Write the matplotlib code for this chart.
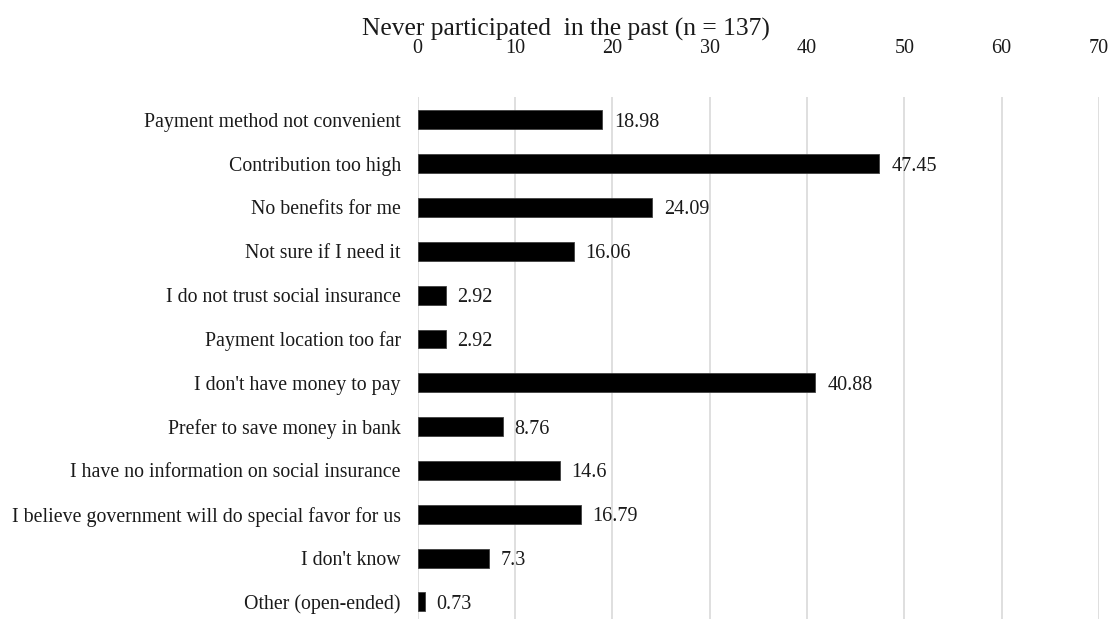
import matplotlib
matplotlib.use("Agg")
import matplotlib.pyplot as plt

reasons = [
    "Payment method not convenient",
    "Contribution too high",
    "No benefits for me",
    "Not sure if I need it",
    "I do not trust social insurance",
    "Payment location too far",
    "I don't have money to pay",
    "Prefer to save money in bank",
    "I have no information on social insurance",
    "I believe government will do special favor for us",
    "I don't know",
    "Other (open-ended)",
]
percent = [18.98, 47.45, 24.09, 16.06, 2.92, 2.92, 40.88, 8.76, 14.6, 16.79, 7.3, 0.73]
value_labels = ["18.98", "47.45", "24.09", "16.06", "2.92", "2.92", "40.88", "8.76", "14.6", "16.79", "7.3", "0.73"]
xticks = [0, 10, 20, 30, 40, 50, 60, 70]

plt.rcParams['font.family'] = ['Liberation Serif', 'DejaVu Serif']

W, H = 1111, 619
fig = plt.figure(figsize=(W / 100, H / 100), dpi=100)
ax = fig.add_axes([417.5 / W, 0, (1099 - 417.5) / W, 1 - 97 / H])

y = list(range(len(reasons)))
ax.barh(y, percent, height=0.43, color='black', edgecolor='#404040', linewidth=0.6, zorder=3)
for yi, v, lab in zip(y, percent, value_labels):
    ax.text(v + 1.2, yi, lab, va='center_baseline', ha='left', fontsize=14.5, color='#1a1a1a')

ax.set_xlim(0, 70)
ax.set_ylim(len(reasons) - 1 + 0.39, -0.52)
ax.set_xticks(xticks)
ax.xaxis.tick_top()
ax.tick_params(axis='x', length=0, pad=28, labelsize=14.5, colors='#1a1a1a')
ax.set_yticks(y)
ax.set_yticklabels(reasons)
ax.tick_params(axis='y', length=0, pad=12, labelsize=14.3, colors='#1a1a1a')
ax.grid(axis='x', color='#d9d9d9', linewidth=1.2, zorder=0)
for s in ax.spines.values():
    s.set_visible(False)

fig.text(566 / W, 1 - 29 / H, "Never participated  in the past (n = 137)",
         ha='center', va='center', fontsize=18.4, color='#1a1a1a')

fig.savefig("out.png", dpi=100)
